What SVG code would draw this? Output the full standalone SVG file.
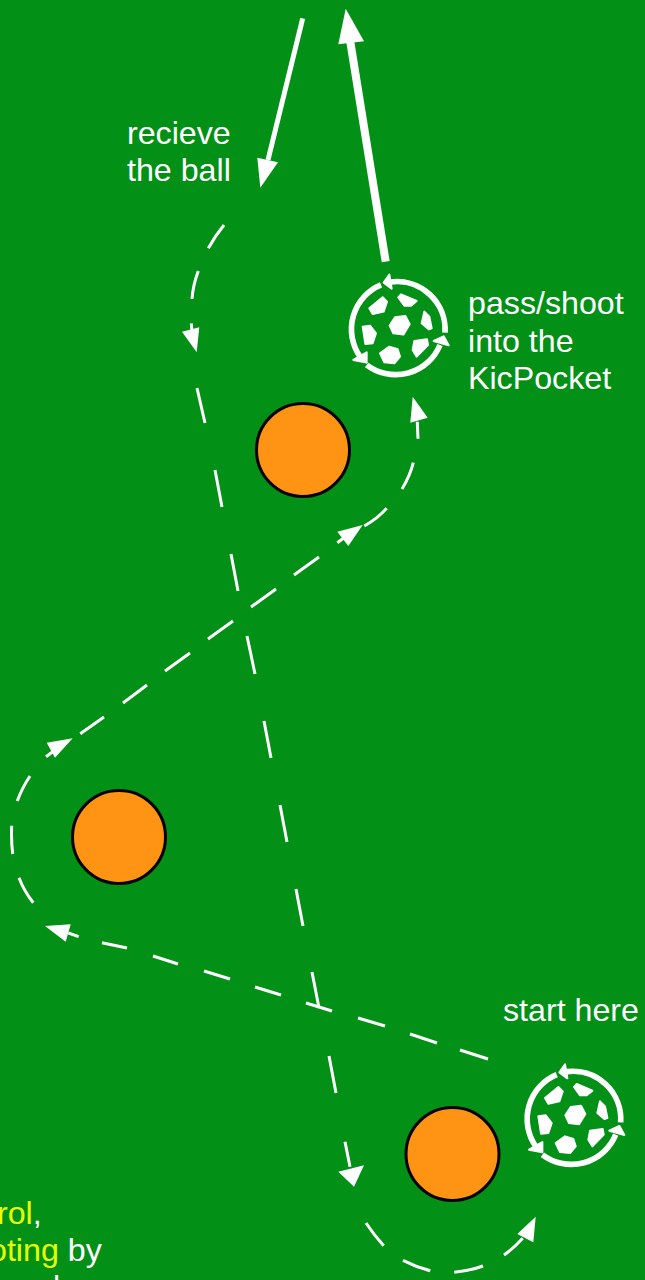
<svg xmlns="http://www.w3.org/2000/svg" width="645" height="1280" viewBox="0 0 645 1280">
<style>
.t{font-family:"Liberation Sans",Arial,sans-serif;font-size:32.2px;fill:#fff}
.y{fill:#e8ff00}
.d{stroke:#fff;stroke-width:3;fill:none}
.h{fill:#fff}
.o{fill:#ff9414;stroke:#000;stroke-width:3}
.r{fill:none;stroke:#fff;stroke-width:17}
.p{fill:#fff;stroke:#fff;stroke-width:6;stroke-linejoin:round}
</style>
<defs>
<g id="ball" transform="translate(-203 -205)">
<path class="r" d="M347 218A144 144 0 0 0 185 66"/>
<path class="r" d="M155 75A144 144 0 0 0 92 290"/>
<path class="r" d="M112 315A144 144 0 0 0 332 255"/>
<path class="p" d="M163 68L180 44L187 86ZM112 308L72 300L112 277ZM343 229L358 256L313 243Z"/>
<path class="p" d="M197 172L228 168L241 193L222 224L192 220L181 197ZM120 145L160 112L173 125L163 155L130 162ZM207 112L215 103L262 123L245 137L225 137ZM285 155L300 170L307 205L298 208L277 190ZM100 200L122 197L140 220L130 250L108 252ZM152 280L180 260L205 268L212 290L195 310L165 307ZM255 243L293 238L296 255L262 290L250 270Z"/>
</g>
</defs>
<rect id="background" width="645" height="1280" fill="#029116"/>
<g id="connectors">
<path d="M302.7 18.3L268 160" stroke="#fff" stroke-width="5" fill="none"/>
<polygon class="h" points="257.3,157.7 278,162.3 260.3,187.7"/>
<path d="M385.7 261.7L350 40" stroke="#fff" stroke-width="8" fill="none"/>
<polygon class="h" points="345.7,8.7 338.3,44.3 364,41.3"/>
<path class="d" d="M224 225Q215 236 208.3 248.3M198.3 271Q193 285 192 299M191.3 323.3L192 332"/>
<polygon class="h" points="196.7,352.3 182,331.7 199.3,327.3"/>
<path class="d" d="M197 388L205 423M215 470L222 507M231 554L238 591M247 636L255 674M264 721L271 758M280 805L287 842M296 889L303 926M312 972L319 1008M329 1056L336 1093M345 1141.7L350 1166.7"/>
<polygon class="h" points="338.3,1171.7 364,1165.3 354,1186.7"/>
<path class="d" d="M366 1223Q374 1235 383.7 1245.7M403 1260.3Q416 1267 430.3 1270.7M454.3 1272.3Q469 1271 483 1266M504 1255Q514 1248 522.7 1238.3"/>
<polygon class="h" points="535.7,1216.7 517.3,1234 533.3,1242.3"/>
<path class="d" d="M488 1059L460 1050M437 1043L410 1034M385 1026L358 1018M332 1011L306 1003M281 995L255 987M230 979L204 971M178 964L153 956M127 948L102 942.7M78.7 936.7L68.3 933"/>
<polygon class="h" points="45,926 70.7,924.3 65.7,941.7"/>
<path class="d" d="M33.3 902.7Q24 891 19 877.7M12.7 854Q11 840 11.7 825.7M17.3 801Q22 788 30 776M46 756.7L52.7 751.7"/>
<polygon class="h" points="72.7,738.3 46.7,742.7 55,757.7"/>
<path class="d" d="M80.3 733.7L104 717M123 703L147 685M165 671L190 653M208 639L233 621M251 607L276 589M294 575L319 557M337.3 542.7L343.3 538.3"/>
<polygon class="h" points="362.7,525 337.3,531.7 348.3,546"/>
<path class="d" d="M364.3 526Q377 519 386.7 508.3M402 489Q410 476 413.3 462.7M418 438.7L417.3 421.7"/>
<polygon class="h" points="412.7,396.7 410.3,422.7 427.7,417.7"/>
</g>
<g id="cone-1"><circle class="o" cx="303" cy="450" r="46.5"/></g>
<g id="cone-2"><circle class="o" cx="119" cy="837" r="46.5"/></g>
<g id="cone-3"><circle class="o" cx="452.5" cy="1154" r="46.5"/></g>
<g id="ball-1" transform="translate(397 328.3) scale(.3333)"><use href="#ball"/></g>
<g id="ball-2" transform="translate(572.7 1118) scale(.3333)"><use href="#ball"/></g>
<g id="label-receive"><text class="t" x="127" y="144">recieve</text><text class="t" x="127" y="181">the ball</text></g>
<g id="label-pass"><text class="t" x="468" y="314">pass/shoot</text><text class="t" x="468" y="352">into the</text><text class="t" x="468" y="389">KicPocket</text></g>
<g id="label-start"><text class="t" x="503" y="1021">start here</text></g>
<g id="label-bottom"><text class="t" x="-3" y="1224"><tspan class="y">rol</tspan>,</text><text class="t" x="-11" y="1261"><tspan class="y">oting</tspan> by</text><text class="t" x="53" y="1298">l</text></g>
</svg>
